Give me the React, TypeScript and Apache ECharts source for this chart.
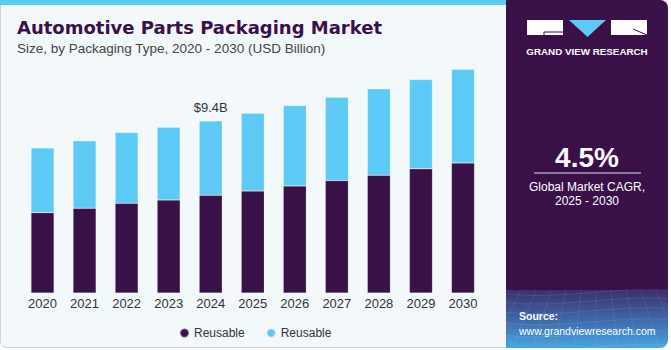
import { useEffect, useRef } from "react";
import * as echarts from "echarts";

const years = ["2020", "2021", "2022", "2023", "2024", "2025", "2026", "2027", "2028", "2029", "2030"];
const reusableDark = [4.39, 4.63, 4.9, 5.08, 5.34, 5.57, 5.85, 6.14, 6.43, 6.78, 7.1];
const reusableLight = [3.53, 3.68, 3.86, 3.98, 4.06, 4.25, 4.39, 4.55, 4.72, 4.88, 5.12];
const seriesNames = ["Reusable", "Reusable "];
const highlightIndex = 4;
const highlightLabel = "$9.4B";
const title = "Automotive Parts Packaging Market";
const subtitle = "Size, by Packaging Type, 2020 - 2030 (USD Billion)";
const cagr = "4.5%";
const cagrText1 = "Global Market CAGR,";
const cagrText2 = "2025 - 2030";

const DARK = "#3a1048";
const LIGHT = "#5dcaf6";
const FONT = "Liberation Sans, Arial, sans-serif";

export default function App() {
  const ref = useRef<HTMLDivElement>(null);
  useEffect(() => {
    if (!ref.current) return;
    const chart = echarts.init(ref.current, null, { renderer: "svg" });

    const mesh: any[] = [];
    for (let i = 0; i < 7; i++) {
      const y = 294 + i * 8 + i * i * 0.6;
      mesh.push({
        type: "bezierCurve",
        shape: { x1: 506, y1: y, x2: 668, y2: y - 4, cpx1: 560, cpy1: y + 6, cpx2: 620, cpy2: y - 8 },
        style: { stroke: "rgba(255,255,255,0.09)", lineWidth: 1, fill: "none" },
        z: 2,
      });
    }
    for (let i = 0; i < 12; i++) {
      const x = 506 + i * 15;
      mesh.push({
        type: "line",
        shape: { x1: x, y1: 290, x2: x + (i - 6) * 6, y2: 348 },
        style: { stroke: "rgba(255,255,255,0.08)", lineWidth: 1 },
        z: 2,
      });
    }

    chart.setOption({
      animation: false,
      textStyle: { fontFamily: FONT },
      grid: { left: 21.5, right: 187, top: 55, bottom: 57, containLabel: false },
      xAxis: {
        type: "category",
        data: years,
        axisLine: { show: false },
        axisTick: { show: false },
        axisLabel: { color: "#333333", fontSize: 13, margin: 4, fontFamily: FONT },
      },
      yAxis: { type: "value", min: 0, max: 13, show: false, splitLine: { show: false } },
      legend: {
        data: seriesNames,
        left: 174,
        top: 322,
        icon: "circle",
        itemWidth: 9,
        itemHeight: 9,
        itemGap: 21,
        formatter: (n: string) => n.trim(),
        textStyle: { color: "#333333", fontSize: 12, fontFamily: FONT },
      },
      series: [
        {
          name: seriesNames[0],
          type: "bar",
          stack: "total",
          barWidth: 23,
          data: reusableDark,
          itemStyle: { color: DARK, borderColor: "rgba(255,255,255,0.35)", borderWidth: 0.5 },
          z: 3,
        },
        {
          name: seriesNames[1],
          type: "bar",
          stack: "total",
          barWidth: 23,
          data: reusableLight.map((v, i) =>
            i === highlightIndex
              ? {
                  value: v,
                  label: {
                    show: true,
                    position: "top",
                    distance: 7,
                    formatter: highlightLabel,
                    color: "#333333",
                    fontSize: 13,
                    fontFamily: FONT,
                  },
                }
              : v
          ),
          itemStyle: { color: LIGHT, borderColor: "rgba(255,255,255,0.45)", borderWidth: 0.5 },
          z: 3,
        },
      ],
      graphic: [
        {
          type: "rect",
          z: -10,
          shape: { x: 0.5, y: 0, width: 520, height: 347.5, r: [0, 0, 0, 6] },
          style: { fill: "#f3f8fb", stroke: "#cfd3d6", lineWidth: 1 },
        },
        { type: "rect", z: -9, shape: { x: 0, y: 0, width: 515, height: 5 }, style: { fill: LIGHT } },
        {
          type: "rect",
          z: 1,
          shape: { x: 506, y: 0, width: 162, height: 290, r: [0, 8, 0, 0] },
          style: { fill: DARK },
        },
        {
          type: "rect",
          z: 1,
          shape: { x: 506, y: 290, width: 162, height: 58, r: [0, 0, 8, 0] },
          style: {
            fill: new echarts.graphic.LinearGradient(0, 0, 0, 1, [
              { offset: 0, color: "#3d2d6c" },
              { offset: 0.5, color: "#3f66a8" },
              { offset: 1, color: "#47a7e2" },
            ]),
          },
        },
        ...mesh,
        {
          type: "text",
          z: 5,
          x: 17,
          y: 27.5,
          style: {
            text: title,
            fill: DARK,
            font: `bold 18px "DejaVu Sans", sans-serif`,
            textVerticalAlign: "middle",
          },
        },
        {
          type: "text",
          z: 5,
          x: 17,
          y: 48,
          style: { text: subtitle, fill: "#444444", font: `13.5px ${FONT}`, textVerticalAlign: "middle" },
        },
        { type: "rect", z: 5, shape: { x: 527, y: 20, width: 36, height: 15 }, style: { fill: "#ffffff" } },
        {
          type: "polyline",
          z: 6,
          shape: { points: [[563, 32], [544, 32], [544, 35]] },
          style: { stroke: DARK, lineWidth: 1, fill: "none" },
        },
        {
          type: "polygon",
          z: 5,
          shape: { points: [[569, 20], [606, 20], [587.5, 37]] },
          style: { fill: LIGHT },
        },
        { type: "rect", z: 5, shape: { x: 611, y: 20, width: 36, height: 15 }, style: { fill: "#ffffff" } },
        {
          type: "line",
          z: 6,
          shape: { x1: 633, y1: 29, x2: 647, y2: 35 },
          style: { stroke: DARK, lineWidth: 1 },
        },
        {
          type: "text",
          z: 5,
          x: 587,
          y: 51,
          style: {
            text: "GRAND VIEW RESEARCH",
            fill: "#ffffff",
            font: `bold 9.8px ${FONT}`,
            textAlign: "center",
            textVerticalAlign: "middle",
          },
        },
        {
          type: "text",
          z: 5,
          x: 587,
          y: 157,
          style: {
            text: cagr,
            fill: "#ffffff",
            font: `bold 28px ${FONT}`,
            textAlign: "center",
            textVerticalAlign: "middle",
          },
        },
        {
          type: "line",
          z: 5,
          shape: { x1: 534, y1: 173, x2: 641, y2: 173 },
          style: { stroke: "#a99bb8", lineWidth: 1.5 },
        },
        {
          type: "text",
          z: 5,
          x: 587,
          y: 187,
          style: {
            text: cagrText1,
            fill: "#ffffff",
            font: `12px ${FONT}`,
            textAlign: "center",
            textVerticalAlign: "middle",
          },
        },
        {
          type: "text",
          z: 5,
          x: 587,
          y: 201,
          style: {
            text: cagrText2,
            fill: "#ffffff",
            font: `12px ${FONT}`,
            textAlign: "center",
            textVerticalAlign: "middle",
          },
        },
        {
          type: "text",
          z: 5,
          x: 519,
          y: 316,
          style: { text: "Source:", fill: "#ffffff", font: `bold 10.5px ${FONT}`, textVerticalAlign: "middle" },
        },
        {
          type: "text",
          z: 5,
          x: 519,
          y: 331,
          style: {
            text: "www.grandviewresearch.com",
            fill: "#ffffff",
            font: `10.5px ${FONT}`,
            textVerticalAlign: "middle",
          },
        },
      ],
    });
    return () => chart.dispose();
  }, []);
  return (
    <div
      ref={ref}
      style={{ position: "fixed", left: 0, top: 0, width: 671, height: 350, background: "#ffffff" }}
    />
  );
}
